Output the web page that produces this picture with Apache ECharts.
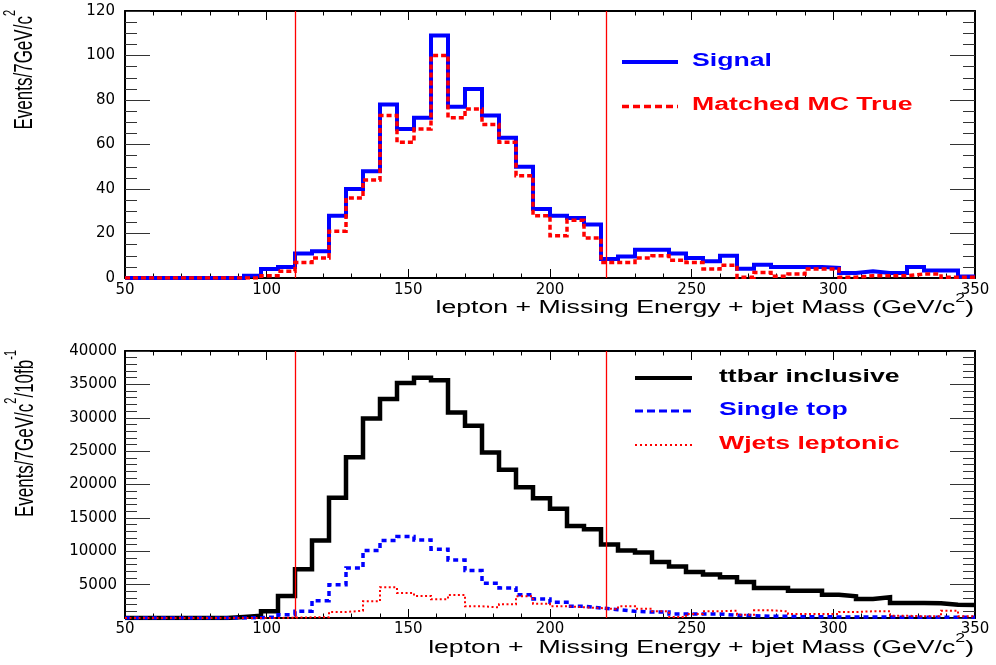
<!DOCTYPE html>
<html>
<head>
<meta charset="utf-8">
<script src="https://cdn.jsdelivr.net/npm/echarts/dist/echarts.min.js"></script>
<style>
html,body{margin:0;padding:0;background:#fff;}
#c{width:996px;height:665px;}
</style>
</head>
<body>
<div id="c"></div>
<script>
// ---- data (bins of 6 GeV from 50 to 350) ----
const binStart = 50;
const binWidth = 6;

const signal = [0,0,0,0,0,0,0,1,4,5,
  11,12,28,40,48,78,67,72,109,77,
  85,73,63,50,31,28,27,24,8.5,9.7,
  12.7,12.7,11,9,7.5,10,4.2,6,5,5,
  5,4.5,2.2,3,2.2,2.2,5,3.4,3.4,0.7];

const matched = [0,0,0,0,0,0,0,0,1,3,
  7,9,21,36,44,73,61,67,100,72,
  76,69,61,46,28,19,26,18,7,7,
  9,10,8,7,4,5.7,0.3,2.5,0.8,1.8,
  4,4,0.3,1,1,1,1.8,1.8,0.3,0.3];

const ttbar = [0,0,0,0,0,0,150,350,1000,3300,
  7300,11600,18000,24100,29900,32800,35200,36000,35600,30800,
  28800,24800,22200,19600,17950,16350,13800,13300,11000,10100,
  9800,8400,7700,6900,6500,6100,5400,4500,4500,4100,
  4100,3500,3250,2850,3100,2250,2250,2200,2000,1950];

const singleTop = [0,0,0,0,0,0,0,50,150,500,
  1000,2600,5000,7500,10100,11600,12200,11700,10300,8700,
  7100,5200,4500,3500,2850,2350,1750,1500,1250,1000,
  900,900,600,600,600,400,350,250,250,200,
  200,150,150,150,150,100,100,100,100,100];

const wjets = [0,0,0,0,0,0,0,0,0,50,
  100,100,900,1100,2500,4600,3750,3300,2800,3450,
  1750,1600,2050,3250,2150,1750,1600,1500,1300,1750,
  1400,1000,150,600,1000,1100,500,1150,1000,600,
  600,600,900,1000,1000,350,250,250,1100,250];

const cutLines = [110, 220];
const xRange = [50, 350, 50];          // min, max, interval
const topYRange = [0, 120, 20];
const botYRange = [0, 40000, 5000];
const topLegend = ['Signal', 'Matched MC True'];
const botLegend = ['ttbar inclusive', 'Single top', 'Wjets leptonic'];
const xTitleTop = 'lepton + Missing Energy + bjet Mass (GeV/c';
const xTitleBot = 'lepton +  Missing Energy + bjet Mass (GeV/c';

// ---- helpers ----
function stepData(vals) {
  const d = vals.map((v, i) => [binStart + i * binWidth, v]);
  d.push([binStart + vals.length * binWidth, vals[vals.length - 1]]);
  return d;
}
const TICKFONT = 'DejaVu Sans';
const TFONT = '"Liberation Sans", Arial, Helvetica, sans-serif';
const SX = 1.48;

function xAxisDef(grid, pos, showLabel, margin) {
  return {
    type: 'value', gridIndex: grid, position: pos,
    min: xRange[0], max: xRange[1], interval: xRange[2],
    axisLine: { show: true, onZero: false, lineStyle: { color: '#000', width: 2 } },
    axisTick: { show: true, inside: true, length: 9, lineStyle: { color: '#000', width: 1 } },
    minorTick: { show: true, splitNumber: 5, length: 4.5, lineStyle: { color: '#000', width: 1 } },
    axisLabel: { show: showLabel, margin: margin, color: '#000', fontFamily: TICKFONT, fontSize: 15,
      showMinLabel: true, showMaxLabel: true },
    splitLine: { show: false }, minorSplitLine: { show: false }
  };
}
function yAxisDef(grid, pos, showLabel, range, minorSplit, hideZero, margin) {
  return {
    type: 'value', gridIndex: grid, position: pos,
    min: range[0], max: range[1], interval: range[2],
    axisLine: { show: true, onZero: false, lineStyle: { color: '#000', width: 2 } },
    axisTick: { show: true, inside: true, length: 25, lineStyle: { color: '#333', width: 1 } },
    minorTick: { show: true, splitNumber: minorSplit, length: 12, lineStyle: { color: '#333', width: 1 } },
    axisLabel: { show: showLabel, margin: margin, color: '#000', fontFamily: TICKFONT, fontSize: 15,
      showMinLabel: true, showMaxLabel: true,
      formatter: v => (hideZero && v === 0) ? '' : String(v) },
    splitLine: { show: false }, minorSplitLine: { show: false }
  };
}
function mark() {
  return {
    silent: true, symbol: ['none', 'none'], animation: false,
    label: { show: false },
    emphasis: { disabled: true },
    lineStyle: { color: '#ff0000', width: 1.3, type: 'solid' },
    data: cutLines.map(v => ({ xAxis: v }))
  };
}
function richTitle(parts) {
  return parts.map(p => (p[1] ? '{s|' : '{m|') + p[0] + '}').join('');
}
function richStyles(size) {
  return {
    m: { fontSize: size, fontFamily: TFONT, fill: '#000', lineHeight: 30, verticalAlign: 'middle' },
    s: { fontSize: Math.round(size * 0.65), fontFamily: TFONT, fill: '#000', lineHeight: 30, verticalAlign: 'top' }
  };
}

const chart = echarts.init(document.getElementById('c'), null, { renderer: 'canvas' });

const legendColorsTop = ['#0000ff', '#ff0000'];
const legendColorsBot = ['#000000', '#0000ff', '#ff0000'];
const graphics = [];
// legends - top
graphics.push({ type: 'line', shape: { x1: 622, y1: 62, x2: 678, y2: 62 }, style: { stroke: '#0000ff', lineWidth: 4 } });
graphics.push({ type: 'line', shape: { x1: 622, y1: 106.5, x2: 678, y2: 106.5 }, style: { stroke: '#ff0000', lineWidth: 3.5, lineDash: [7, 4] } });
[61, 105].forEach((y, i) => graphics.push({
  type: 'text', x: 692, y: y, scaleX: SX,
  style: { text: topLegend[i], fill: legendColorsTop[i], fontSize: 18, fontWeight: 'bold', fontFamily: TFONT, align: 'left', verticalAlign: 'middle' }
}));
// legends - bottom
graphics.push({ type: 'line', shape: { x1: 635, y1: 378, x2: 692, y2: 378 }, style: { stroke: '#000000', lineWidth: 4 } });
graphics.push({ type: 'line', shape: { x1: 635, y1: 411, x2: 692, y2: 411 }, style: { stroke: '#0000ff', lineWidth: 3, lineDash: [8, 4] } });
graphics.push({ type: 'line', shape: { x1: 635, y1: 445, x2: 692, y2: 445 }, style: { stroke: '#ff0000', lineWidth: 2, lineDash: [2, 3] } });
[377, 410.5, 444.5].forEach((y, i) => graphics.push({
  type: 'text', x: 719, y: y, scaleX: SX,
  style: { text: botLegend[i], fill: legendColorsBot[i], fontSize: 18, fontWeight: 'bold', fontFamily: TFONT, align: 'left', verticalAlign: 'middle' }
}));
// x titles
graphics.push({ type: 'text', x: 974, y: 308, scaleX: SX,
  style: { text: richTitle([[xTitleTop], ['2', 1], [')']]), rich: richStyles(18), align: 'right', verticalAlign: 'middle' } });
graphics.push({ type: 'text', x: 974, y: 648, scaleX: SX,
  style: { text: richTitle([[xTitleBot], ['2', 1], [')']]), rich: richStyles(18), align: 'right', verticalAlign: 'middle' } });
// y titles (rotated)
graphics.push({ type: 'text', x: 25, y: 10, rotation: Math.PI / 2, scaleY: SX,
  style: { text: richTitle([['Events/7GeV/c'], ['2', 1]]), rich: richStyles(17), align: 'right', verticalAlign: 'middle' } });
graphics.push({ type: 'text', x: 26, y: 350, rotation: Math.PI / 2, scaleY: SX,
  style: { text: richTitle([['Events/7GeV/c'], ['2', 1], ['/10fb'], ['-1', 1]]), rich: richStyles(17), align: 'right', verticalAlign: 'middle' } });

const option = {
  animation: false,
  backgroundColor: '#ffffff',
  grid: [
    { left: 125, top: 11, width: 850, height: 267, containLabel: false },
    { left: 125, top: 351, width: 850, height: 267, containLabel: false }
  ],
  xAxis: [
    xAxisDef(0, 'bottom', true, 5),
    xAxisDef(0, 'top', false, 5),
    xAxisDef(1, 'bottom', true, 4),
    xAxisDef(1, 'top', false, 4)
  ],
  yAxis: [
    yAxisDef(0, 'left', true, topYRange, 4, false, 10),
    yAxisDef(0, 'right', false, topYRange, 4, false, 10),
    yAxisDef(1, 'left', true, botYRange, 5, true, 8),
    yAxisDef(1, 'right', false, botYRange, 5, true, 8)
  ],
  series: [
    { name: topLegend[0], type: 'line', xAxisIndex: 0, yAxisIndex: 0, data: stepData(signal), step: 'end',
      symbol: 'none', z: 3, lineStyle: { color: '#0000ff', width: 4, join: 'miter' } },
    { name: topLegend[1], type: 'line', xAxisIndex: 0, yAxisIndex: 0, data: stepData(matched), step: 'end',
      symbol: 'none', z: 4, lineStyle: { color: '#ff0000', width: 3.5, type: [5, 3], join: 'miter' }, markLine: mark() },
    { name: botLegend[0], type: 'line', xAxisIndex: 2, yAxisIndex: 2, data: stepData(ttbar), step: 'end',
      symbol: 'none', z: 3, lineStyle: { color: '#000000', width: 4.5, join: 'miter' } },
    { name: botLegend[1], type: 'line', xAxisIndex: 2, yAxisIndex: 2, data: stepData(singleTop), step: 'end',
      symbol: 'none', z: 4, lineStyle: { color: '#0000ff', width: 3.5, type: [5, 4], join: 'miter' } },
    { name: botLegend[2], type: 'line', xAxisIndex: 2, yAxisIndex: 2, data: stepData(wjets), step: 'end',
      symbol: 'none', z: 5, lineStyle: { color: '#ff0000', width: 2, type: [2, 2.5], join: 'miter' }, markLine: mark() }
  ],
  graphic: { elements: graphics }
};
chart.setOption(option);
</script>
</body>
</html>
